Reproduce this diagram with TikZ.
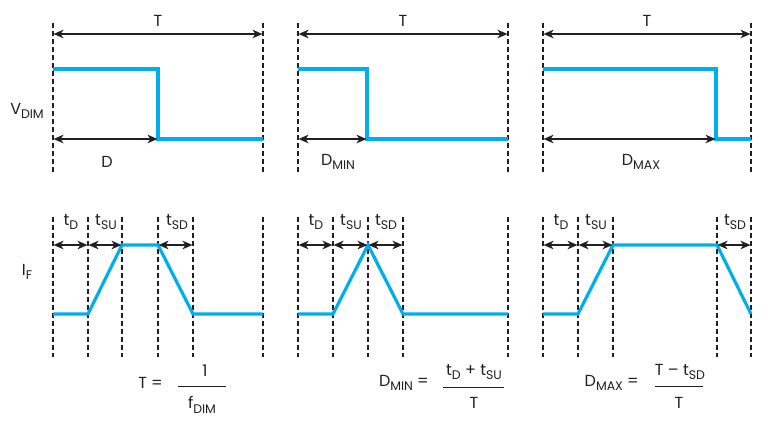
\documentclass[tikz,border=0pt]{standalone}
\usepackage{fontspec}
\setmainfont{Poppins}
\usetikzlibrary{arrows.meta}
\definecolor{wave}{RGB}{0,174,239}
\definecolor{ink}{RGB}{35,31,32}
\newcommand{\lsub}[1]{\raisebox{-0.55ex}{\fontsize{12.5}{12.5}\selectfont #1}}
\tikzset{
  grid/.style={ink, line width=1.4pt, dash pattern=on 5pt off 3pt},
  wavef/.style={wave, line width=3.2pt, line join=miter},
  dim/.style={ink, line width=1.7pt, {Stealth[length=10pt,width=8.5pt,inset=3pt]}-{Stealth[length=10pt,width=8.5pt,inset=3pt]}, shorten <=0.5pt, shorten >=0.5pt},
  lbl/.style={inner sep=0pt, font=\fontsize{16}{16}\selectfont, text=ink},
  bar/.style={ink, line width=1pt}
}
\begin{document}
\begin{tikzpicture}[x=1pt,y=-1pt]
\useasboundingbox (0,0) rectangle (770,423);

% ---------- row labels ----------
\node[lbl] (vdim) at (27,111) {V\lsub{DIM}};
\node[lbl] (if) at (27,272) {I\lsub{F}};

% ---------- top row ----------
\foreach \L/\F/\R/\n in {53/158/263/a, 298/367/508/b, 543/716/751/c}{
  \coordinate (\n tl) at (\L,23);  \coordinate (\n bl) at (\L,173);
  \coordinate (\n tr) at (\R,23);  \coordinate (\n br) at (\R,173);
  \draw[grid] (\n tl) -- (\n bl);
  \draw[grid] (\n tr) -- (\n br);
  \coordinate (\n Ta) at (\L,34); \coordinate (\n Tb) at (\R,34);
  \draw[dim] (\n Ta) -- (\n Tb);
  \coordinate (\n h0) at (\L,69); \coordinate (\n h1) at (\F,69);
  \coordinate (\n l0) at (\F,139); \coordinate (\n l1) at (\R,139);
  \coordinate (\n Da) at (\L,139);
  \draw[wavef] (\n h0) -- (\n h1) -- (\n l0) -- (\n l1);
  \draw[dim] (\n Da) -- (\n l0);
  \node[lbl] (\n T) at ({(\L+\R)/2},21) {T};
}
\node[lbl] (Dlab) at (107,162) {D};
\node[lbl] (Dminlab) at (338,162) {D\lsub{MIN}};
\node[lbl] (Dmaxlab) at (641,162) {D\lsub{MAX}};

% ---------- bottom row ----------
\foreach \x/\n in {53/p1, 88/p2, 122/p3, 158/p4, 193/p5, 263/p6,
                   298/q1, 333/q2, 368/q3, 403/q4, 508/q5,
                   543/r1, 578/r2, 613/r3, 717/r4, 751/r5}{
  \coordinate (\n t) at (\x,217);
  \coordinate (\n b) at (\x,357);
  \coordinate (\n hi) at (\x,245);
  \coordinate (\n lo) at (\x,314);
  \draw[grid] (\n t) -- (\n b);
}
% waveforms
\draw[wavef] (p1lo) -- (p2lo) -- (p3hi) -- (p4hi) -- (p5lo) -- (p6lo);
\draw[wavef] (q1lo) -- (q2lo) -- (q3hi) -- (q4lo) -- (q5lo);
\draw[wavef] (r1lo) -- (r2lo) -- (r3hi) -- (r4hi) -- (r5lo);
% time arrows
\draw[dim] (p1hi) -- (p2hi);
\draw[dim] (p2hi) -- (p3hi);
\draw[dim] (p4hi) -- (p5hi);
\draw[dim] (q1hi) -- (q2hi);
\draw[dim] (q2hi) -- (q3hi);
\draw[dim] (q3hi) -- (q4hi);
\draw[dim] (r1hi) -- (r2hi);
\draw[dim] (r2hi) -- (r3hi);
\draw[dim] (r4hi) -- (r5hi);
% time labels
\node[lbl] (tD1) at (71,222) {t\lsub{D}};
\node[lbl] (tSU1) at (106,222) {t\lsub{SU}};
\node[lbl] (tSD1) at (177,222) {t\lsub{SD}};
\node[lbl] (tD2) at (316,222) {t\lsub{D}};
\node[lbl] (tSU2) at (351,222) {t\lsub{SU}};
\node[lbl] (tSD2) at (386,222) {t\lsub{SD}};
\node[lbl] (tD3) at (561,222) {t\lsub{D}};
\node[lbl] (tSU3) at (596,222) {t\lsub{SU}};
\node[lbl] (tSD3) at (735,222) {t\lsub{SD}};

% ---------- formulas ----------
\node[lbl, anchor=east] (f1l) at (163,383) {T =};
\coordinate (f1a) at (178,386); \coordinate (f1b) at (226,386);
\draw[bar] (f1a) -- (f1b);
\node[lbl] (f1n) at (205,371) {1};
\node[lbl] (f1d) at (202,405) {f\lsub{DIM}};

\node[lbl, anchor=east] (f2l) at (429,383) {D\lsub{MIN} =};
\coordinate (f2a) at (443,387); \coordinate (f2b) at (504,387);
\draw[bar] (f2a) -- (f2b);
\node[lbl] (f2n) at (474,372) {t\lsub{D} + t\lsub{SU}};
\node[lbl] (f2d) at (474,403) {T};

\node[lbl, anchor=east] (f3l) at (639,383) {D\lsub{MAX} =};
\coordinate (f3a) at (655,386); \coordinate (f3b) at (703,386);
\draw[bar] (f3a) -- (f3b);
\node[lbl] (f3n) at (680,372) {T – t\lsub{SD}};
\node[lbl] (f3d) at (679,403) {T};
\end{tikzpicture}
\end{document}
